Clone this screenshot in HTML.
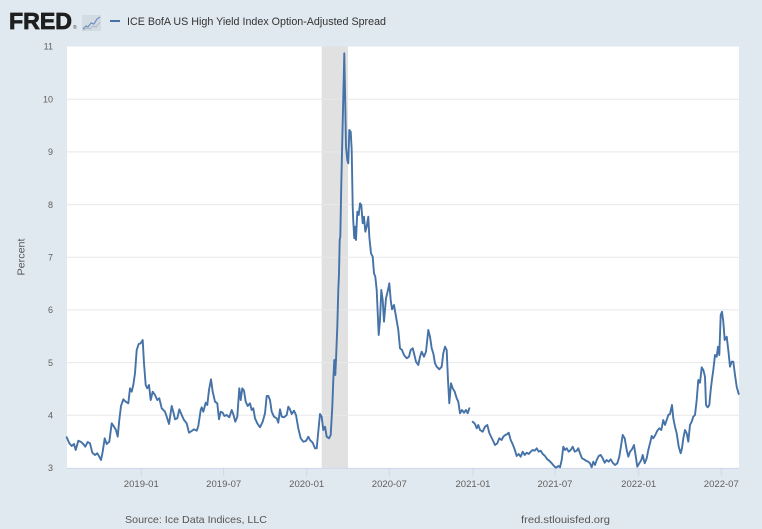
<!DOCTYPE html>
<html>
<head>
<meta charset="utf-8">
<style>
  html, body { margin: 0; padding: 0; background: #e1e9f0; }
  svg { display: block; }
  text { font-family: "Liberation Sans", "DejaVu Sans", sans-serif; }
</style>
</head>
<body>
<svg width="762" height="529" viewBox="0 0 762 529" xmlns="http://www.w3.org/2000/svg">
  <rect x="0" y="0" width="762" height="529" fill="#e1e9f0"/>

  <!-- Header -->
  <text x="9" y="29" font-size="23" font-weight="bold" fill="#1f1f1f" stroke="#1f1f1f" stroke-width="0.8" textLength="63" lengthAdjust="spacingAndGlyphs">FRED</text>
  <text x="73" y="29" font-size="5" fill="#444">®</text>
  <rect x="82" y="15" width="19" height="16" fill="#d3dbe3"/>
  <polyline points="83,29 86,26 88,27 91,23 94,24 97,19 100,17" fill="none" stroke="#6f8fbf" stroke-width="1.2"/>
  <polyline points="83,30 87,28 90,29 93,26 96,27 100,22" fill="none" stroke="#aab8c8" stroke-width="1"/>
  <line x1="110" y1="21" x2="120" y2="21" stroke="#4572a7" stroke-width="2"/>
  <text x="127" y="25" font-size="11" fill="#333" textLength="259" lengthAdjust="spacingAndGlyphs">ICE BofA US High Yield Index Option-Adjusted Spread</text>

  <!-- Plot area -->
  <rect x="67" y="46.5" width="672" height="421.5" fill="#ffffff"/>
  <!-- Recession shading -->
  <rect x="321.7" y="46.5" width="26.3" height="421.5" fill="#e1e1e1"/>

  <!-- Gridlines -->
  <g stroke="#e8e8e8" stroke-width="1">
    <line x1="67" y1="99.2" x2="739" y2="99.2"/>
    <line x1="67" y1="151.9" x2="739" y2="151.9"/>
    <line x1="67" y1="204.6" x2="739" y2="204.6"/>
    <line x1="67" y1="257.2" x2="739" y2="257.2"/>
    <line x1="67" y1="309.9" x2="739" y2="309.9"/>
    <line x1="67" y1="362.6" x2="739" y2="362.6"/>
    <line x1="67" y1="415.3" x2="739" y2="415.3"/>
  </g>

  <!-- X ticks -->
  <g stroke="#ccd6eb" stroke-width="1">
    <line x1="141.3" y1="468" x2="141.3" y2="476"/>
    <line x1="223.7" y1="468" x2="223.7" y2="476"/>
    <line x1="306.7" y1="468" x2="306.7" y2="476"/>
    <line x1="389.3" y1="468" x2="389.3" y2="476"/>
    <line x1="473" y1="468" x2="473" y2="476"/>
    <line x1="555" y1="468" x2="555" y2="476"/>
    <line x1="638.7" y1="468" x2="638.7" y2="476"/>
    <line x1="721.3" y1="468" x2="721.3" y2="476"/>
  </g>
  <line x1="67" y1="468.3" x2="739" y2="468.3" stroke="#ccd6eb" stroke-width="0.8"/>

  <!-- Series -->
  <g fill="none" stroke="#4572a7" stroke-width="1.9" stroke-linejoin="round" stroke-linecap="round">
    <polyline points="66.7,437.3 69.3,443.3 71.7,446 74,444 75.7,450 78.3,440.7 80.7,441.7 83.3,444 85.3,446.7 87.7,442 90,443.3 92.3,452.7 95,455 97.3,453.3 99.3,456.7 101,460 102.7,451.7 104.7,438.3 106.7,444 109.3,441.7 111.7,423.3 114,426.7 116,430 117.7,436.7 119.3,420 121,406 123.3,399.3 125.7,401.7 128.3,403.3 130,388.3 131.7,391.7 133.3,385 135,373.3 136.7,350 138.7,344 140.7,343.3 142.7,340 144,363.3 145.7,385 147.3,388.3 149,385 150.7,400 152.7,391.7 155,395 157.3,400 159.3,398.3 161.7,408.3 165,411.7 166.7,416.7 169,424 171.7,406 173.3,411.7 175,419.3 177.3,418.3 179.3,409.3 181.7,415 184,420 186.7,423.3 189,432.7 191.7,431 194,429.3 196.7,430.7 198.3,426 200.7,410 201.7,407.3 203.3,411.7 205.7,402.7 207.3,405 209,390 211,379.3 212.7,391.7 215,401.7 217.3,403.3 219,419.3 220.7,411.7 222.7,412.7 224.3,416 226.7,415 229.3,417.3 231.7,410 233.3,414.3 235.3,421.7 237.3,416.7 239.3,388.3 240.7,400 242.3,388.3 244,390.7 245.7,401.7 247.7,406 250,403.3 251.7,410 253.3,408.3 255,418.3 257.3,423.3 260,427.3 262.7,421.7 265,413.3 266.7,396 268.3,396 270,400 271.7,411.7 274,416.7 276.7,418.3 278.3,422.7 280,409.3 281.7,416.7 284,417.3 286.7,415 288.3,406.7 290,409.3 291.7,414 294,410.7 296,415 298.3,428.3 300.7,438.3 303.3,441.7 306,441 308.3,436.7 310,440 312.7,442.7 315,448.3 316.7,448.3 318.3,431.7 320,414 321.7,416.7 323.3,430 325,426.7 326.7,436.7 329,438.3 330.7,435 332.3,406.7 333.3,380 334.3,360 335.3,375 336,360 337.3,326.7 338.3,290 339,273.3 339.7,240 340.3,236.7 341.3,183.3 342.3,140 343.3,96.7 344.3,53.3 345,90 346,146.7 347.3,160 348.3,163.3 349.3,130 350.7,131.7 351.7,150 352.7,206.7 353.3,221.7 354.3,238.3 355.3,226.7 356,240 357.3,211.7 358.7,215 360,203.3 361.3,205 362.7,223.3 364,216.7 365.3,231.7 366.7,226.7 368.3,216.7 369.3,236.7 371,253.3 372.7,256.7 374,273.3 375.3,276.7 376.7,290 378.7,335 380,320 381.3,290 382.7,300 384,321.7 386,298.3 388,290 389.3,283.3 390.7,300 392,309.3 394,305 396,316.7 398.3,330 400,348.3 402,350 404,355 406.7,358.3 409,356.7 410.7,350 412.7,348.3 414,353.3 416,361.7 418.3,365 420,356.7 421.7,351.7 424,356.7 426,351.7 428.3,330 430,336.7 431.7,348.3 433.3,353.3 435,363.3 436.7,366.7 439.3,369.3 441.7,366.7 443.3,353.3 445,346.7 446.7,350 448,380 449.3,403.3 451,383.3 452.7,388.3 454.7,391.7 456.7,398.3 458.3,401.7 460,413.3 462,410 464,412.7 466,410 467.7,413.3 469.3,408.3"/>
    <polyline points="472.7,421.7 475,424 476.7,428.3 478.3,425 480,430 482.7,431.7 485,426.7 487.3,425 489.3,433 492.7,440 495,445 497.3,443.3 499.3,438.3 501.7,440 503.3,436.7 505.3,435 507.3,434 508.7,432.7 510.7,440 512.3,443.3 514.3,448.3 516.7,456 518.7,454 520.7,456.7 522.7,451.7 524.7,455 526.7,452.7 528.7,454 530.7,451.7 532.7,450 534.7,450.7 536.7,448.3 538.7,451.7 540.7,450.7 542.7,454 545,456 547.3,459.3 549.3,460.7 551.7,463.3 554,466 556,467.7 558.3,466 560,467.3 561.7,460 563.3,446.7 565,450 566.7,448.3 568.7,451.7 570.7,450 572.7,446.7 574.7,451.7 576.7,450.7 578.3,448.3 580,453.3 582,458.3 584,459.3 586,460.7 588.3,461.7 590,463.3 591.7,467.3 593.3,461.7 595,465 596.7,460 598.7,456 600.7,455 602.7,458.3 604.7,462.7 606.7,460 608.7,461.7 610.7,459.3 612.7,462.7 615,465 617.3,463.3 619.3,456.7 620.7,448 622.7,435 624.7,438.3 626.7,450 628.3,456.7 630,451.7 632,449.3 634,445 635.3,453.3 637.3,466.7 639.3,463.3 641.3,460 642.7,455 644.7,463.3 646.7,458.3 648.3,450 650,443.3 651.7,436 653.3,438.3 655.3,435 657.3,430.7 659.3,428.3 661.3,430 663.3,420 665,425 666.7,420 668.3,415 670,414 672,405 673.3,418.3 675,426.7 676.7,433.3 678.7,446.7 680.7,453.3 682,448.3 683.3,438.3 685,430 686.7,433.3 688.3,441.7 690,425 691.7,421.7 693.3,416.7 695,415 696.7,400 698.3,380 700,382.7 701.7,367.3 703.3,370 705,376.7 706,405 707.7,407.3 709.3,405 710.7,390 712,379.3 713.3,370 715,355 716.7,356.7 718,346.7 719.3,355 720.7,315 722,311.7 723.3,321.7 724.7,340 726.7,336.7 728.3,350 730,366.7 731.7,361.7 733.3,361.7 735,375 736.7,386.7 738.7,394"/>
  </g>

  <!-- Y labels -->
  <g font-size="9" fill="#5e5e5e" text-anchor="end">
    <text x="53" y="49.5">11</text>
    <text x="53" y="102.4">10</text>
    <text x="53" y="155.1">9</text>
    <text x="53" y="207.8">8</text>
    <text x="53" y="260.4">7</text>
    <text x="53" y="313.1">6</text>
    <text x="53" y="365.8">5</text>
    <text x="53" y="418.5">4</text>
    <text x="53" y="471.2">3</text>
  </g>
  <text transform="translate(24.5,257) rotate(-90)" font-size="10" fill="#555" text-anchor="middle" textLength="37" lengthAdjust="spacingAndGlyphs">Percent</text>

  <!-- X labels -->
  <g font-size="9.5" fill="#5e5e5e" text-anchor="middle">
    <text x="141.3" y="487" textLength="35" lengthAdjust="spacingAndGlyphs">2019-01</text>
    <text x="223.7" y="487" textLength="35" lengthAdjust="spacingAndGlyphs">2019-07</text>
    <text x="306.7" y="487" textLength="35" lengthAdjust="spacingAndGlyphs">2020-01</text>
    <text x="389.3" y="487" textLength="35" lengthAdjust="spacingAndGlyphs">2020-07</text>
    <text x="473" y="487" textLength="35" lengthAdjust="spacingAndGlyphs">2021-01</text>
    <text x="555" y="487" textLength="35" lengthAdjust="spacingAndGlyphs">2021-07</text>
    <text x="638.7" y="487" textLength="35" lengthAdjust="spacingAndGlyphs">2022-01</text>
    <text x="721.3" y="487" textLength="35" lengthAdjust="spacingAndGlyphs">2022-07</text>
  </g>

  <!-- Footer -->
  <text x="125" y="523" font-size="10.5" fill="#555" textLength="142" lengthAdjust="spacingAndGlyphs">Source: Ice Data Indices, LLC</text>
  <text x="521" y="523" font-size="10.5" fill="#555" textLength="89" lengthAdjust="spacingAndGlyphs">fred.stlouisfed.org</text>
</svg>
</body>
</html>
